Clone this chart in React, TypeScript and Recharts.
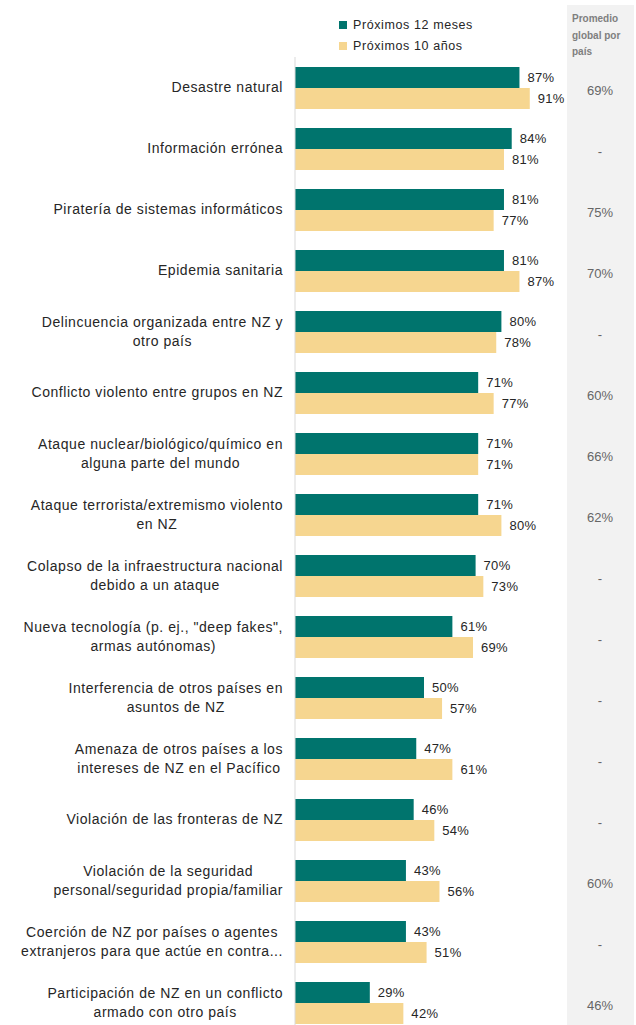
import { Bar, BarChart, LabelList, XAxis, YAxis } from 'recharts';

const categories = [
  'Desastre natural',
  'Información errónea',
  'Piratería de sistemas informáticos',
  'Epidemia sanitaria',
  'Delincuencia organizada entre NZ y\notro país',
  'Conflicto violento entre grupos en NZ',
  'Ataque nuclear/biológico/químico en\nalguna parte del mundo',
  'Ataque terrorista/extremismo violento\nen NZ',
  'Colapso de la infraestructura nacional\ndebido a un ataque',
  'Nueva tecnología (p. ej., "deep fakes",\narmas autónomas)',
  'Interferencia de otros países en\nasuntos de NZ',
  'Amenaza de otros países a los\nintereses de NZ en el Pacífico',
  'Violación de las fronteras de NZ',
  'Violación de la seguridad\npersonal/seguridad propia/familiar',
  'Coerción de NZ por países o agentes\nextranjeros para que actúe en contra...',
  'Participación de NZ en un conflicto\narmado con otro país',
];
const next12Months = [87, 84, 81, 81, 80, 71, 71, 71, 70, 61, 50, 47, 46, 43, 43, 29];
const next10Years = [91, 81, 77, 87, 78, 77, 71, 80, 73, 69, 57, 61, 54, 56, 51, 42];
const globalAvg = ['69%', '-', '75%', '70%', '-', '60%', '66%', '62%', '-', '-', '-', '-', '-', '60%', '-', '46%'];
const seriesNames = ['Próximos 12 meses', 'Próximos 10 años'];

const TEAL = '#00746d';
const SAND = '#f6d690';
const FONT = 'Liberation Sans, Arial, sans-serif';

const data = categories.map((name, i) => ({
  name,
  m12: next12Months[i],
  y10: next10Years[i],
  avg: globalAvg[i],
}));

function CategoryTick({ x, y, payload }: any) {
  const lines = String(payload.value).split('\n');
  const h = lines.length * 19;
  return (
    <foreignObject x={0} y={y - h / 2} width={x - 4} height={h}>
      <div style={{ display: 'flex', justifyContent: 'flex-end' }}>
        <div
          style={{
            textAlign: 'center',
            fontFamily: FONT,
            fontSize: 14,
            letterSpacing: 0.55,
            lineHeight: '19px',
            color: '#262626',
            whiteSpace: 'nowrap',
          }}
        >
          {lines.map((l, i) => (
            <div key={i}>{l}</div>
          ))}
        </div>
      </div>
    </foreignObject>
  );
}

function AvgLabel({ y, height, value }: any) {
  return (
    <text
      x={600}
      y={y + height + 4}
      textAnchor="middle"
      dominantBaseline="middle"
      fontFamily={FONT}
      fontSize={13}
      fill="#666"
    >
      {value}
    </text>
  );
}

const valueStyle = { fontFamily: FONT, fontSize: 13, letterSpacing: 0.3, fill: '#262626' };

export default function App() {
  return (
    <div
      style={{
        position: 'absolute',
        top: 0,
        left: 0,
        width: 636,
        height: 1025,
        overflow: 'hidden',
        background: '#fff',
      }}
    >
      <div
        style={{
          position: 'absolute',
          left: 567,
          top: 5,
          width: 67,
          height: 1020,
          background: '#f2f2f2',
        }}
      />
      <div
        style={{
          position: 'absolute',
          left: 572,
          top: 11,
          fontFamily: FONT,
          fontSize: 10,
          fontWeight: 'bold',
          lineHeight: '16.5px',
          color: '#7f7f7f',
        }}
      >
        Promedio
        <br />
        global por
        <br />
        país
      </div>
      <div
        style={{
          position: 'absolute',
          left: 339,
          top: 14,
          fontFamily: FONT,
          fontSize: 12.5,
          letterSpacing: 0.6,
          color: '#262626',
        }}
      >
        {seriesNames.map((label, i) => (
          <div key={label} style={{ display: 'flex', alignItems: 'center', height: 21 }}>
            <span
              style={{ width: 8, height: 8, background: i === 0 ? TEAL : SAND, marginRight: 6 }}
            />
            {label}
          </div>
        ))}
      </div>
      <BarChart
        width={636}
        height={1035}
        data={data}
        layout="vertical"
        margin={{ top: 57, right: 83, bottom: 2, left: 0 }}
        barCategoryGap={9}
        barGap={0}
        style={{ position: 'absolute', top: 0, left: 0 }}
      >
        <XAxis type="number" domain={[0, 100]} hide />
        <YAxis
          type="category"
          dataKey="name"
          width={295}
          axisLine={{ stroke: '#d9d9d9' }}
          tickLine={false}
          tick={<CategoryTick />}
          interval={0}
        />
        <Bar dataKey="m12" fill={TEAL} barSize={21} isAnimationActive={false}>
          <LabelList
            dataKey="m12"
            position="right"
            offset={8}
            formatter={(v: any) => `${v}%`}
            style={valueStyle}
          />
          <LabelList dataKey="avg" content={<AvgLabel />} />
        </Bar>
        <Bar dataKey="y10" fill={SAND} barSize={21} isAnimationActive={false}>
          <LabelList
            dataKey="y10"
            position="right"
            offset={8}
            formatter={(v: any) => `${v}%`}
            style={valueStyle}
          />
        </Bar>
      </BarChart>
    </div>
  );
}
